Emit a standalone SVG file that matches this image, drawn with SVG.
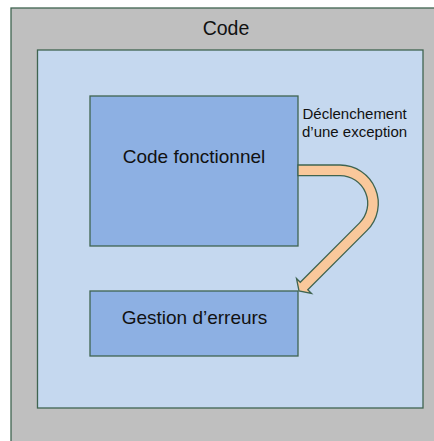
<svg xmlns="http://www.w3.org/2000/svg" width="434" height="441" viewBox="0 0 434 441">
  <style>
    .frame { stroke: #3f6450; stroke-width: 1.3; }
    .label { font-family: "Liberation Sans", Arial, sans-serif; fill: #111; }
  </style>
  <rect width="434" height="441" fill="#ffffff"/>

  <!-- Outer "Code" container -->
  <g id="code">
    <rect class="frame" x="11" y="8" width="440" height="450" fill="#bfbfbf" stroke-width="1.6"/>
    <text class="label" x="226" y="35" font-size="19.5" text-anchor="middle">Code</text>
  </g>

  <!-- Inner area -->
  <g id="inner">
    <rect class="frame" x="37.5" y="50" width="385.5" height="358" fill="#c5d8ef"/>
  </g>

  <!-- Main code block -->
  <g id="code-fonctionnel">
    <rect class="frame" x="90" y="96" width="208" height="150" fill="#8db0e3"/>
    <text class="label" x="194" y="163" font-size="19" text-anchor="middle">Code fonctionnel</text>
  </g>

  <!-- Error handling block -->
  <g id="gestion-erreurs">
    <rect class="frame" x="90" y="291" width="208" height="65" fill="#8db0e3"/>
    <text class="label" x="194.5" y="323.5" font-size="19" text-anchor="middle">Gestion d’erreurs</text>
  </g>

  <!-- Connectors -->
  <g id="connectors">
    <path class="frame" fill="#f9c89b" stroke-linejoin="miter"
          d="M298,165 H340 A38.3,38.3 0 0 1 367.08,230.38 L307.75,289.75 L311.5,293.5 L299,291 L296.5,278.5 L300.25,282.25 L359.59,222.89 A27.7,27.7 0 0 0 340,175.6 H298 Z"/>
    <text class="label" font-size="15" x="302.5" y="119">Déclenchement</text>
    <text class="label" font-size="15" x="302" y="137">d’une exception</text>
  </g>
</svg>
